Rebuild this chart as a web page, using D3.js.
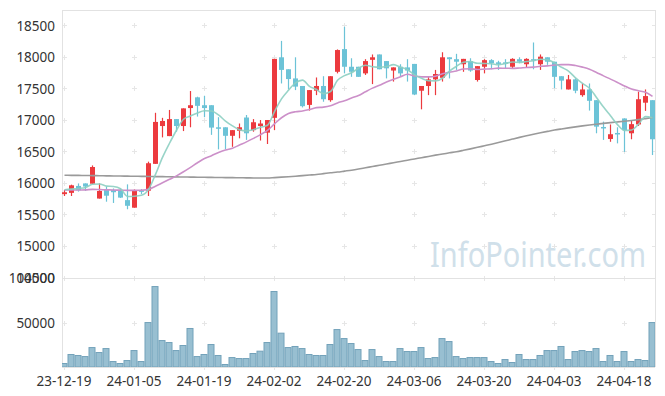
<!DOCTYPE html>
<html>
<head>
<meta charset="utf-8">
<script src="https://cdn.jsdelivr.net/npm/d3@7/dist/d3.min.js"></script>
<style>
	body { margin: 0; background: #fff; }
	svg { display: block; }
</style>
</head>
<body>
<div id="chart"></div>
<script>
// trading days shown (yy-mm-dd)
var dates = ['23-12-19','23-12-20','23-12-21','23-12-22','23-12-26','23-12-27','23-12-28',
	'24-01-02','24-01-03','24-01-04','24-01-05','24-01-08','24-01-09','24-01-10','24-01-11','24-01-12',
	'24-01-15','24-01-16','24-01-17','24-01-18','24-01-19','24-01-22','24-01-23','24-01-24','24-01-25','24-01-26',
	'24-01-29','24-01-30','24-01-31','24-02-01','24-02-02','24-02-05','24-02-06','24-02-07','24-02-08',
	'24-02-13','24-02-14','24-02-15','24-02-16','24-02-19','24-02-20','24-02-21','24-02-22','24-02-23',
	'24-02-26','24-02-27','24-02-28','24-02-29','24-03-04','24-03-05','24-03-06','24-03-07','24-03-08',
	'24-03-11','24-03-12','24-03-13','24-03-14','24-03-15','24-03-18','24-03-19','24-03-20','24-03-21','24-03-22',
	'24-03-25','24-03-26','24-03-27','24-03-28','24-03-29','24-04-01','24-04-02','24-04-03','24-04-04','24-04-05',
	'24-04-08','24-04-09','24-04-11','24-04-12','24-04-15','24-04-16','24-04-17','24-04-18',
	'24-04-19','24-04-22','24-04-23','24-04-24'];

var openPrice = [15830,15850,15960,16000,15995,15760,15895,15895,15885,15735,
	15615,15890,15885,16310,16910,16750,17020,16910,17195,17365,
	17240,17240,16890,16890,16755,16835,17045,16845,16910,16805,
	17040,18000,17810,17665,17545,17245,17470,17545,17320,17770,
	18130,17850,17850,17745,17960,18045,17940,17790,17850,17840,
	17895,17470,17545,17650,17675,18000,17970,17890,17940,17640,
	17850,17955,17920,17920,17850,17970,17890,17970,17890,18000,
	17930,17700,17490,17650,17400,17490,17320,16895,16705,16800,
	17030,16795,16935,17280,17320];
var highPrice = [15895,15980,16000,16000,16285,16000,15950,15920,15920,15985,
	15905,15910,16345,17120,17040,17165,17020,17190,17465,17375,
	17390,17240,17050,16890,16845,16950,17085,17020,17005,17005,
	17975,18260,17810,18000,17545,17480,17680,17700,17700,18125,
	18485,17985,17850,17970,18045,18045,17940,17840,17890,17970,
	17895,17545,17690,17800,18080,18000,18055,17975,17985,17860,
	17970,17970,17945,17970,17985,18000,17985,18235,18045,18000,
	17930,17700,17720,17665,17585,17585,17320,16980,16935,16890,
	17030,17005,17455,17490,17320];
var lowPrice = [15800,15800,15870,15880,15990,15760,15710,15690,15770,15590,
	15615,15830,15800,16310,16730,16750,16820,16830,16890,17060,
	17050,16770,16540,16540,16580,16715,16690,16820,16680,16625,
	16845,17585,17490,17480,17205,17155,17400,17295,17295,17745,
	17745,17690,17690,17720,17575,17810,17665,17615,17690,17615,
	17400,17175,17400,17400,17615,17665,17800,17770,17770,17615,
	17745,17810,17800,17825,17825,17905,17840,17810,17800,17880,
	17510,17490,17490,17430,17375,17155,16795,16690,16660,16635,
	16500,16700,16910,17150,16450];
var closePrice = [15860,15970,15890,15950,16260,15880,15805,15860,15775,15645,
	15895,15880,16320,16975,16990,17020,16910,17190,17240,17230,
	17195,16885,16880,16755,16845,16890,16795,16970,16950,17005,
	17975,17800,17655,17535,17225,17480,17545,17335,17700,18115,
	17850,17770,17690,17940,18000,17810,17825,17840,17745,17790,
	17410,17545,17650,17735,18000,17970,17930,17975,17790,17860,
	17955,17905,17895,17895,17975,17930,17975,17950,18010,17930,
	17690,17630,17650,17470,17490,17310,16900,16885,16780,16790,
	16845,16940,17335,17385,16700];
var volume = [5000,15000,13900,12700,22700,17200,21600,7200,5000,8300,
	19400,7200,50500,90500,30500,28300,19400,25000,43900,12700,
	15000,26100,13900,3900,11600,10500,10500,16100,18700,28300,
	85000,38700,22700,23900,21600,15000,13900,13900,26100,42700,
	32700,27200,20500,8300,20500,12700,7200,7200,21600,18300,
	18300,22700,10500,11600,32700,29400,12700,10500,11600,11600,
	11600,7200,5000,9400,6100,15000,9400,9400,13900,19400,
	19400,23900,9400,18300,19400,18300,21600,7200,13900,7200,
	18300,7200,9400,8300,50500];

// moving averages as drawn (teal, pink, gray)
var ma5 = [15900,15910,15920,15935,15986,15990,15957,15951,15916,15793,
	15796,15811,15903,16143,16412,16637,16843,17017,17070,17118,
	17153,17148,17086,16989,16912,16851,16833,16851,16890,16922,
	17139,17340,17477,17594,17638,17539,17488,17424,17457,17635,
	17709,17754,17825,17873,17850,17842,17853,17883,17844,17802,
	17722,17666,17628,17626,17668,17780,17857,17922,17933,17905,
	17902,17897,17881,17902,17925,17920,17934,17945,17968,17959,
	17911,17842,17782,17674,17586,17510,17364,17211,17073,16933,
	16840,16848,16938,17059,17041];
var ma20 = [15895,15895,15895,15898,15905,15902,15898,15895,15893,15890,
	15890,15892,15905,15955,16010,16065,16120,16185,16255,16327,
	16394,16440,16489,16530,16559,16609,16659,16714,16773,16841,
	16945,17041,17108,17136,17148,17171,17202,17210,17233,17277,
	17310,17354,17394,17454,17511,17557,17609,17652,17692,17731,
	17703,17690,17690,17700,17739,17763,17783,17815,17819,17806,
	17812,17818,17829,17826,17825,17831,17839,17844,17857,17864,
	17878,17883,17883,17869,17844,17811,17759,17705,17654,17601,
	17545,17497,17469,17444,17380];
var ma60 = [16130,16128,16127,16125,16124,16122,16120,16118,16117,16115,
	16113,16112,16110,16108,16107,16105,16103,16102,16100,16098,
	16097,16095,16094,16092,16091,16090,16088,16087,16086,16085,
	16092,16099,16106,16114,16124,16133,16142,16155,16168,16180,
	16195,16210,16228,16248,16268,16288,16308,16328,16348,16368,
	16388,16408,16428,16448,16466,16485,16503,16525,16548,16572,
	16597,16622,16648,16675,16703,16730,16755,16780,16803,16825,
	16846,16864,16881,16897,16912,16926,16939,16952,16964,16975,
	16986,16998,17012,17028,17045];

var xTickLabels = ['23-12-19','24-01-05','24-01-19','24-02-02','24-02-20','24-03-06','24-03-20','24-04-03','24-04-18'];
var priceTicks = [14500,15000,15500,16000,16500,17000,17500,18000,18500];
var volumeTicks = [50000,100000];

var width = 665, height = 396;
var plotLeft = 62, plotRight = 655, plotTop = 10, priceBottom = 278, volBottom = 367;
var upColor = '#ec3a3e', downColor = '#6cc3d7';

var svg = d3.select('#chart').append('svg')
	.attr('width', width)
	.attr('height', height);

var x = d3.scaleBand().domain(dates).range([60.5, 655.5]);
var y = d3.scaleLinear().domain([14500, 18750]).range([priceBottom, plotTop]);
var yv = d3.scaleLinear().domain([0, 100000]).range([368, priceBottom]);
function cx(d){ return x(d) + x.bandwidth() / 2; }

var defs = svg.append('defs');
defs.append('clipPath').attr('id', 'clipPrice').append('rect')
	.attr('x', plotLeft).attr('y', plotTop).attr('width', plotRight - plotLeft).attr('height', priceBottom - plotTop);
defs.append('clipPath').attr('id', 'clipVol').append('rect')
	.attr('x', plotLeft).attr('y', priceBottom).attr('width', plotRight - plotLeft).attr('height', volBottom - priceBottom);

//watermark
svg.append('text')
	.attr('x', 430).attr('y', 267)
	.attr('textLength', 216).attr('lengthAdjust', 'spacingAndGlyphs')
	.style('font-family', '"Noto Sans", sans-serif')
	.style('font-size', '34px')
	.style('fill', '#d0e0ea')
	.text('InfoPointer.com');

//grid crosses
var crosses = [];
xTickLabels.forEach(function(t){
	priceTicks.forEach(function(p){ crosses.push([cx(t), y(p)]); });
	volumeTicks.forEach(function(v){ crosses.push([cx(t), yv(v)]); });
	crosses.push([cx(t), volBottom]);
});
var grid = svg.append('g').attr('stroke', '#e6e6e6').attr('stroke-width', 1).attr('shape-rendering', 'crispEdges');
crosses.forEach(function(c){
	grid.append('line').attr('x1', c[0] - 2.5).attr('x2', c[0] + 2.5).attr('y1', c[1]).attr('y2', c[1]);
	grid.append('line').attr('x1', c[0]).attr('x2', c[0]).attr('y1', c[1] - 2.5).attr('y2', c[1] + 2.5);
});
priceTicks.forEach(function(p){
	grid.append('line').attr('x1', plotRight - 3).attr('x2', plotRight).attr('y1', y(p)).attr('y2', y(p));
});

//frame
var frame = svg.append('g').attr('stroke', '#e2e2e2').attr('fill', 'none').attr('shape-rendering', 'crispEdges');
frame.append('path').attr('d', 'M' + plotLeft + ',' + volBottom + 'V' + plotTop + 'H' + plotRight + 'V' + volBottom);
frame.append('line').attr('x1', plotLeft).attr('x2', plotRight).attr('y1', priceBottom).attr('y2', priceBottom);
frame.append('line').attr('x1', plotLeft).attr('x2', plotRight).attr('y1', volBottom).attr('y2', volBottom);

//volume bars
svg.append('g').attr('clip-path', 'url(#clipVol)')
	.selectAll('rect')
	.data(dates)
	.enter().append('rect')
		.attr('x', function(d){ return x(d) + 0.5; })
		.attr('width', x.bandwidth() - 1)
		.attr('y', function(d, i){ return yv(volume[i]); })
		.attr('height', function(d, i){ return yv(0) - yv(volume[i]) - 1; })
		.attr('fill', '#98bfd1')
		.attr('stroke', '#73a2ba')
		.attr('stroke-width', 1);

//candles
var candles = svg.append('g').attr('clip-path', 'url(#clipPrice)')
	.selectAll('g')
	.data(dates)
	.enter().append('g');
candles.append('line')
	.attr('x1', function(d){ return Math.round(cx(d)) + 0.5; })
	.attr('x2', function(d){ return Math.round(cx(d)) + 0.5; })
	.attr('y1', function(d, i){ return y(highPrice[i]); })
	.attr('y2', function(d, i){ return y(lowPrice[i]); })
	.attr('stroke', function(d, i){ return closePrice[i] >= openPrice[i] ? upColor : downColor; })
	.attr('stroke-width', 1.2);
candles.append('rect')
	.attr('x', function(d){ return Math.round(cx(d)) - 2; })
	.attr('width', 5)
	.attr('y', function(d, i){ return y(Math.max(openPrice[i], closePrice[i])); })
	.attr('height', function(d, i){ return Math.max(1.5, Math.abs(y(openPrice[i]) - y(closePrice[i]))); })
	.attr('fill', function(d, i){ return closePrice[i] >= openPrice[i] ? upColor : downColor; });

//moving average lines
function maLine(arr){
	return d3.line()
		.x(function(d){ return cx(d) + 0.5; })
		.y(function(d, i){ return y(arr[i]); })
		.curve(d3.curveMonotoneX);
}
var lines = svg.append('g').attr('clip-path', 'url(#clipPrice)').attr('fill', 'none');
lines.append('path').attr('d', maLine(ma60)(dates)).attr('stroke', '#9a9a9a').attr('stroke-width', 1.6);
lines.append('path').attr('d', maLine(ma20)(dates)).attr('stroke', '#cc90c9').attr('stroke-width', 1.6);
lines.append('path').attr('d', maLine(ma5)(dates)).attr('stroke', '#8dcfc2').attr('stroke-width', 1.6).attr('opacity', 0.9);

//axes
var yAxis = svg.append('g')
	.attr('transform', 'translate(' + plotLeft + ',0)')
	.call(d3.axisLeft(y).tickValues(priceTicks).tickSize(0).tickPadding(7).tickFormat(d3.format('d')));
var vAxis = svg.append('g')
	.attr('transform', 'translate(' + plotLeft + ',0)')
	.call(d3.axisLeft(yv).tickValues(volumeTicks).tickSize(0).tickPadding(7).tickFormat(d3.format('d')));
var xAxis = svg.append('g')
	.attr('transform', 'translate(0,' + volBottom + ')')
	.call(d3.axisBottom(x).tickValues(xTickLabels).tickSize(0).tickPadding(9));

[yAxis, vAxis, xAxis].forEach(function(a){
	a.select('.domain').remove();
	a.selectAll('text')
		.style('font-family', '"Noto Sans", sans-serif')
		.style('font-size', '13.5px')
		.style('fill', '#333');
});
</script>
</body>
</html>
